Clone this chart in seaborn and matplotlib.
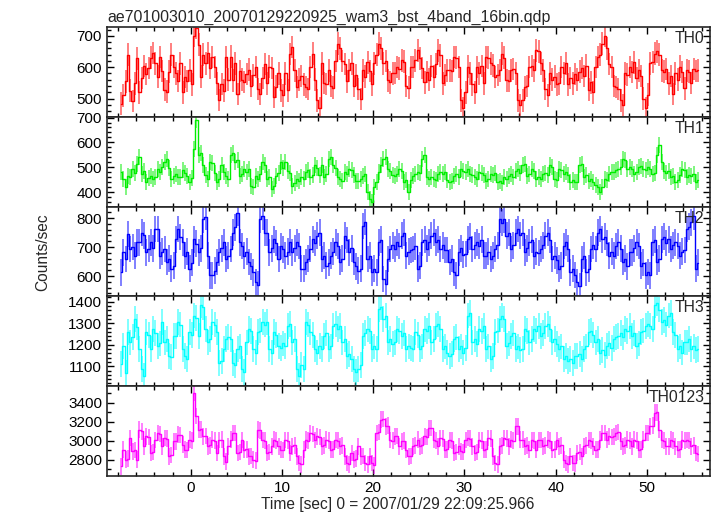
import numpy as np
import matplotlib
matplotlib.use("Agg")
import matplotlib.pyplot as plt
import seaborn as sns
from matplotlib.ticker import MultipleLocator

# light curve, 0.25 s bins, first bin centre at -7.625 s
t_first = -7.625
bin_width = 0.25

th0 = [
    484, 510, 555, 640, 525, 492, 548, 628,
    520, 566, 604, 578, 598, 630, 645, 612,
    570, 632, 588, 528, 522, 586, 640, 602,
    580, 556, 612, 520, 568, 556, 590, 545,
    700, 725, 672, 570, 640, 612, 645, 598,
    632, 600, 548, 495, 546, 525, 632, 560,
    634, 558, 612, 515, 588, 560, 553, 578,
    592, 540, 575, 600, 530, 515, 565, 610,
    548, 602, 598, 505, 538, 580, 526, 510,
    580, 526, 642, 665, 590, 537, 560, 572,
    545, 537, 530, 600, 643, 560, 494, 470,
    612, 550, 546, 590, 540, 535, 620, 675,
    660, 620, 610, 555, 590, 612, 540, 575,
    530, 498, 590, 570, 615, 588, 545, 612,
    640, 675, 660, 612, 620, 558, 552, 580,
    582, 600, 595, 622, 618, 540, 535, 600,
    600, 622, 654, 628, 598, 552, 585, 560,
    604, 570, 610, 654, 638, 548, 575, 590,
    590, 588, 633, 630, 600, 494, 470, 520,
    602, 580, 545, 520, 600, 580, 604, 548,
    633, 630, 612, 606, 569, 575, 590, 643,
    630, 558, 556, 590, 594, 580, 494, 480,
    494, 536, 540, 600, 604, 590, 654, 650,
    612, 590, 530, 510, 580, 560, 570, 545,
    548, 600, 580, 612, 545, 566, 548, 578,
    560, 586, 598, 572, 605, 528, 552, 520,
    600, 633, 640, 675, 700, 660, 610, 600,
    540, 537, 530, 494, 480, 580, 576, 600,
    585, 615, 566, 590, 572, 500, 470, 512,
    612, 616, 643, 650, 640, 590, 586, 594,
    548, 572, 515, 580, 560, 602, 585, 532,
    590, 586, 550, 594, 588, 590,
]

th1 = [
    481, 454, 420, 467, 460, 494, 478, 514,
    540, 474, 486, 440, 458, 467, 452, 460,
    494, 480, 501, 522, 534, 498, 454, 466,
    474, 462, 460, 490, 476, 467, 440, 456,
    575, 690, 548, 556, 508, 470, 454, 521,
    516, 478, 440, 452, 508, 481, 466, 454,
    548, 556, 521, 530, 467, 474, 494, 482,
    494, 427, 420, 467, 455, 472, 521, 510,
    454, 462, 413, 424, 467, 476, 521, 496,
    521, 487, 478, 427, 436, 454, 446, 460,
    454, 481, 488, 460, 470, 508, 496, 470,
    508, 460, 472, 534, 542, 508, 496, 460,
    454, 446, 481, 472, 494, 488, 470, 447,
    447, 452, 467, 474, 400, 372, 360, 420,
    440, 480, 508, 534, 542, 494, 486, 470,
    467, 472, 494, 486, 440, 448, 400, 450,
    467, 474, 481, 478, 534, 548, 460, 452,
    460, 454, 448, 472, 481, 474, 482, 450,
    440, 446, 467, 474, 460, 494, 486, 480,
    494, 474, 468, 460, 452, 481, 476, 470,
    447, 452, 474, 468, 478, 440, 446, 436,
    460, 452, 467, 474, 462, 487, 492, 478,
    508, 514, 467, 472, 494, 486, 454, 460,
    454, 474, 478, 468, 508, 502, 454, 448,
    494, 488, 474, 482, 468, 440, 448, 440,
    440, 508, 514, 460, 468, 447, 452, 440,
    430, 420, 400, 420, 454, 448, 472, 481,
    481, 488, 494, 502, 534, 528, 494, 502,
    494, 474, 480, 501, 507, 494, 488, 500,
    494, 474, 478, 548, 590, 520, 487, 478,
    487, 460, 466, 440, 448, 470, 494, 488,
    460, 468, 467, 472, 440, 448,
]

th2 = [
    613, 682, 659, 745, 693, 700, 670, 716,
    716, 750, 740, 682, 695, 716, 696, 762,
    762, 670, 684, 693, 648, 660, 625, 636,
    727, 762, 735, 716, 670, 684, 625, 646,
    727, 712, 682, 696, 796, 804, 670, 602,
    602, 618, 648, 682, 696, 716, 659, 670,
    693, 750, 768, 819, 716, 704, 670, 684,
    648, 634, 613, 579, 570, 796, 806, 750,
    750, 682, 696, 727, 714, 659, 704, 692,
    670, 684, 716, 682, 696, 716, 704, 625,
    625, 648, 660, 693, 727, 714, 739, 750,
    659, 670, 636, 646, 670, 684, 716, 704,
    648, 660, 739, 724, 682, 696, 648, 634,
    619, 626, 773, 786, 659, 670, 613, 626,
    613, 716, 726, 590, 574, 659, 693, 706,
    693, 716, 704, 739, 750, 670, 684, 690,
    693, 702, 625, 636, 716, 726, 694, 716,
    739, 750, 716, 726, 693, 706, 690, 690,
    648, 660, 613, 602, 682, 696, 674, 676,
    727, 736, 693, 706, 716, 704, 726, 670,
    670, 684, 659, 670, 693, 706, 796, 784,
    796, 739, 750, 693, 706, 750, 762, 740,
    750, 682, 696, 716, 726, 670, 684, 680,
    693, 706, 739, 750, 724, 659, 670, 654,
    625, 636, 704, 716, 694, 613, 626, 604,
    579, 566, 659, 670, 613, 626, 693, 706,
    693, 750, 762, 727, 736, 714, 670, 684,
    670, 704, 716, 694, 648, 660, 634, 682,
    682, 696, 716, 704, 636, 646, 602, 614,
    602, 716, 726, 648, 660, 727, 736, 714,
    727, 693, 706, 716, 704, 670, 684, 690,
    762, 770, 785, 806, 625, 646,
]

th3 = [
    1109, 1195, 1070, 1258, 1211, 1236, 1320, 1284,
    1179, 1086, 1054, 1258, 1244, 1179, 1273, 1254,
    1195, 1206, 1305, 1211, 1226, 1148, 1144, 1242,
    1242, 1305, 1294, 1179, 1148, 1134, 1258, 1244,
    1336, 1324, 1242, 1383, 1374, 1273, 1211, 1226,
    1305, 1294, 1258, 1117, 1126, 1179, 1226, 1236,
    1226, 1117, 1104, 1179, 1192, 1086, 1074, 1211,
    1273, 1264, 1179, 1164, 1258, 1266, 1305, 1294,
    1305, 1179, 1164, 1258, 1244, 1195, 1184, 1206,
    1195, 1289, 1296, 1211, 1226, 1086, 1054, 1106,
    1086, 1305, 1294, 1258, 1244, 1179, 1164, 1196,
    1179, 1242, 1256, 1179, 1192, 1289, 1296, 1274,
    1289, 1211, 1226, 1148, 1156, 1134, 1086, 1074,
    1086, 1106, 1242, 1256, 1273, 1264, 1179, 1192,
    1179, 1367, 1376, 1320, 1336, 1211, 1226, 1204,
    1211, 1273, 1264, 1242, 1256, 1179, 1192, 1184,
    1179, 1258, 1244, 1179, 1192, 1273, 1264, 1286,
    1211, 1226, 1289, 1296, 1274, 1179, 1192, 1164,
    1148, 1156, 1226, 1236, 1179, 1192, 1164, 1186,
    1336, 1346, 1211, 1226, 1204, 1273, 1264, 1286,
    1179, 1192, 1132, 1146, 1258, 1266, 1320, 1336,
    1320, 1195, 1206, 1242, 1256, 1179, 1192, 1174,
    1179, 1273, 1264, 1211, 1226, 1273, 1264, 1286,
    1242, 1256, 1289, 1296, 1274, 1211, 1226, 1204,
    1179, 1192, 1132, 1146, 1124, 1132, 1114, 1146,
    1148, 1156, 1134, 1179, 1192, 1258, 1266, 1244,
    1211, 1226, 1164, 1176, 1154, 1195, 1206, 1184,
    1226, 1236, 1242, 1256, 1234, 1273, 1264, 1286,
    1242, 1256, 1195, 1206, 1258, 1266, 1289, 1296,
    1289, 1274, 1383, 1396, 1364, 1305, 1316, 1294,
    1336, 1346, 1258, 1244, 1179, 1192, 1164, 1211,
    1211, 1226, 1179, 1192, 1174, 1179,
]

th0123 = [
    2729, 2906, 2800, 2810, 3029, 2888, 2900, 2800,
    3117, 3100, 2941, 3047, 3040, 2870, 2880, 3006,
    3082, 3070, 2941, 3029, 3020, 2835, 2850, 2994,
    2994, 3064, 3060, 2958, 2906, 2900, 3011, 3000,
    3506, 3259, 3117, 3120, 3047, 3050, 2941, 2950,
    3011, 3000, 2870, 3006, 3010, 2835, 2780, 2941,
    3011, 3082, 3080, 2870, 2880, 3006, 2906, 2910,
    2835, 2840, 2800, 2790, 3117, 3110, 3006, 3000,
    2870, 2880, 2941, 3011, 3000, 2941, 2906, 2900,
    3006, 3000, 2870, 2941, 2950, 2835, 2764, 2750,
    2906, 3011, 3000, 3082, 3070, 3006, 3047, 3040,
    2941, 2950, 3011, 3000, 2906, 2910, 3006, 3000,
    2941, 2950, 2835, 2764, 2750, 2870, 2800, 2810,
    2941, 2835, 2840, 2764, 2750, 2835, 2764, 2740,
    3082, 3090, 3223, 3230, 3153, 3160, 3006, 3000,
    3047, 3050, 2941, 2994, 3000, 2906, 2835, 2840,
    2941, 2950, 3011, 2941, 2950, 3047, 3040, 3135,
    3135, 3011, 3000, 2941, 3029, 3020, 2906, 2910,
    3006, 3000, 2870, 2880, 2941, 2888, 2880, 3006,
    3029, 3020, 2941, 2870, 2880, 3006, 3000, 2906,
    2910, 3029, 3020, 2835, 2764, 2750, 2941, 2950,
    3029, 3020, 2941, 3011, 3000, 3153, 3150, 3011,
    3011, 2941, 2950, 2906, 3006, 3000, 2906, 3006,
    3006, 2941, 2950, 3011, 3000, 2906, 2910, 3006,
    2941, 2950, 2800, 2764, 2750, 2835, 2764, 2760,
    2870, 2880, 2835, 2941, 2950, 3006, 3000, 2941,
    2906, 2910, 3011, 3082, 3080, 3011, 3047, 3040,
    3047, 3082, 3090, 2994, 2941, 2950, 3011, 3000,
    2941, 3011, 3000, 2906, 2910, 3011, 3082, 3080,
    3153, 3160, 3294, 3300, 3117, 3011, 3000, 2941,
    2941, 3011, 3000, 2941, 2906, 2910, 3011, 3000,
    3006, 3000, 2941, 2950, 2870, 2860,
]

bands = ["TH0", "TH1", "TH2", "TH3", "TH0123"]
series = [th0, th1, th2, th3, th0123]
errors = [36, 32, 46, 60, 88]
colors = ["#ff0000", "#00ee00", "#0000ff", "#00ffff", "#ff00ff"]
ylims = [(441, 727), (342, 702), (530, 839), (1008, 1425), (2630, 3576)]
major = [100, 100, 100, 100, 200]
minor = [20, 20, 20, 20, 100]

sns.set_style("ticks")
plt.rcParams["font.family"] = ["Liberation Sans", "DejaVu Sans"]

fig, axes = plt.subplots(5, 1, sharex=True, figsize=(7.17, 5.16), dpi=100)
fig.subplots_adjust(left=0.149, right=0.990, top=0.947, bottom=0.078, hspace=0)

for ax, name, vals, err, col, yl, mj, mn in zip(axes, bands, series, errors, colors,
                                                  ylims, major, minor):
    vals = np.array(vals, dtype=float)
    t = t_first + bin_width * np.arange(len(vals))
    ax.vlines(t, vals - err, vals + err, color=col, alpha=0.5, lw=1.4)
    sns.lineplot(x=t, y=vals, ax=ax, color=col, lw=1.0, drawstyle="steps-mid")
    ax.set_ylim(*yl)
    ax.set_xlim(-9.2, 56.9)
    ax.yaxis.set_major_locator(MultipleLocator(mj))
    ax.yaxis.set_minor_locator(MultipleLocator(mn))
    ax.xaxis.set_major_locator(MultipleLocator(10))
    ax.xaxis.set_minor_locator(MultipleLocator(2))
    ax.tick_params(which="both", direction="in", top=True, right=True,
                   labelsize=11, colors="black", width=1)
    ax.tick_params(which="major", length=5)
    ax.tick_params(which="minor", length=3)
    for s in ax.spines.values():
        s.set_linewidth(1.2)
    ax.set_ylabel("")
    ax.text(0.991, 0.955, name, transform=ax.transAxes, ha="right", va="top",
            fontsize=11.3)

axes[-1].set_xlabel("")
fig.text(0.555, 0.022, "Time [sec] 0 = 2007/01/29 22:09:25.966", ha="center",
         va="center", fontsize=11.2)
fig.text(0.059, 0.512, "Counts/sec", rotation=90, ha="center", va="center",
         fontsize=11.2)
fig.text(0.150, 0.957, "ae701003010_20070129220925_wam3_bst_4band_16bin.qdp",
         ha="left", va="baseline", fontsize=11.4)

fig.savefig("out.png", dpi=100)
